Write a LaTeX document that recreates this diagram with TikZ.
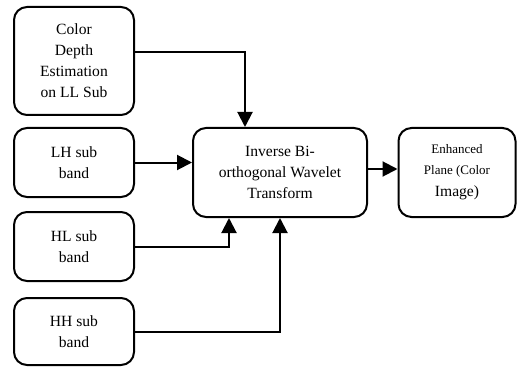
\documentclass[tikz,border=0pt]{standalone}
\usepackage{fontspec}
\setmainfont{Liberation Serif}
\usetikzlibrary{arrows.meta}
\begin{document}
\begin{tikzpicture}[x=1pt,y=-1pt,
  box/.style={draw, line width=2pt, rounded corners=13pt, align=center,
    inner sep=0pt, font=\fontsize{15.6pt}{21pt}\selectfont},
  arr/.style={line width=2pt, -{Triangle[length=15pt,width=15pt]}}]
\useasboundingbox (0,0) rectangle (518,366);
\node[box, minimum width=120pt, minimum height=108pt] (cd) at (74,61) {Color\\Depth\\Estimation\\on LL Sub};
\node[box, minimum width=120pt, minimum height=69pt] (lh) at (74,162.5) {LH sub\\band};
\node[box, minimum width=120pt, minimum height=69pt] (hl) at (74,246.5) {HL sub\\band};
\node[box, minimum width=120pt, minimum height=67pt] (hh) at (74,331.5) {HH sub\\band};
\node[box, minimum width=174pt, minimum height=89pt] (inv) at (280,172.5) {Inverse Bi-\\orthogonal Wavelet\\Transform};
\node[box, minimum width=117pt, minimum height=89pt] (enh) at (457,172.5)
  {{\fontsize{13pt}{18pt}\selectfont Enhanced}\\{\fontsize{13pt}{18pt}\selectfont Plane (Color}\\[1pt]Image)};
\draw[arr] ([yshift=9pt]cd.east) -| ([xshift=-35pt]inv.north);
\draw[arr] (lh.east) -- (lh.east -| inv.west);
\draw[arr] (hl.east) -| ([xshift=-51pt]inv.south);
\draw[arr] (hh.east) -| (inv.south);
\draw[arr] ([yshift=3.5pt]inv.east) -- ([yshift=3.5pt]enh.west);
\end{tikzpicture}
\end{document}
